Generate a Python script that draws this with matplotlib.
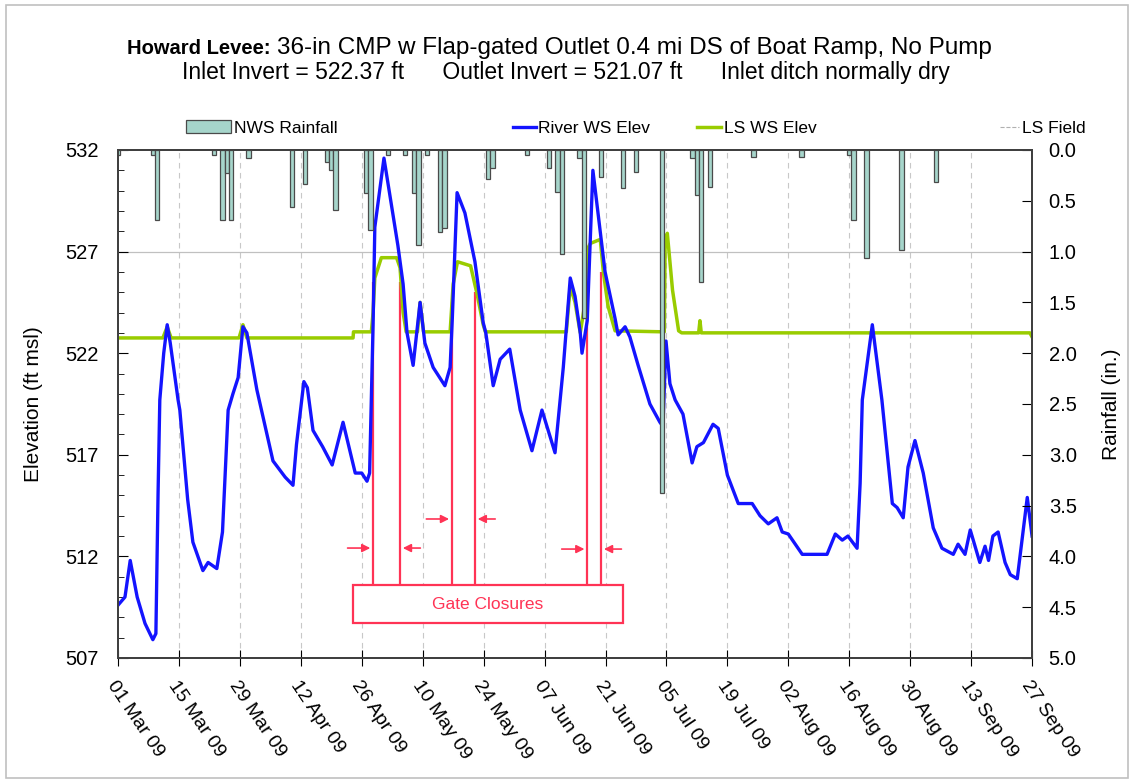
import matplotlib.pyplot as plt
from matplotlib.lines import Line2D
from matplotlib.patches import Rectangle
import numpy as np

# days counted from 01 Mar 09
river_day = [0, 1.6, 2.8, 4.4, 6.2, 8.0, 8.7, 9.2, 9.6, 10.5, 11.3, 12.0, 13.8, 14.2, 16.0, 17.2,
             19.5, 20.7, 22.7, 24.0, 25.3, 26.4, 27.6, 28.7, 29.6, 31.9, 35.6, 38.4, 40.2, 41.0,
             42.7, 43.5, 44.8, 47.0, 49.2, 51.7, 54.5, 56.0, 57.2, 57.8, 58.6, 59.0, 61.1, 64.3,
             65.5, 66.4, 67.8, 69.4, 70.5, 72.4, 75.1, 76.3, 76.8, 77.9, 79.7, 82.0, 83.9, 84.5,
             86.2, 87.8, 90.0, 92.4, 95.1, 97.4, 100.4, 102.3, 103.9, 105.0, 106.2, 106.6, 107.8,
             109.1, 111.9, 114.2, 114.9, 116.5, 117.6, 119.5, 122.2, 124.5, 125.2, 125.9, 126.8,
             128.0, 129.8, 131.9, 133.0, 134.5, 136.7, 137.9, 140.0, 142.5, 145.7, 147.5, 149.4,
             151.4, 152.6, 154.0, 157.2, 160.2, 162.9, 164.8, 166.4, 167.7, 169.8, 170.5, 171.0,
             173.3, 175.5, 177.9, 179.0, 180.4, 181.5, 183.1, 185.0, 187.3, 189.3, 191.9, 193.0,
             194.6, 195.8, 198.0, 199.2, 200.0, 201.0, 202.2, 203.8, 205.0, 206.6, 208.9, 210.0]
river_elev = [509.6, 510.0, 511.8, 510.0, 508.7, 507.9, 508.2, 515.1, 519.7, 522.0, 523.4, 522.5,
              519.7, 519.2, 514.8, 512.7, 511.3, 511.7, 511.4, 513.2, 519.2, 520.0, 520.8, 523.3,
              523.0, 520.2, 516.7, 515.9, 515.5, 517.5, 520.6, 520.3, 518.2, 517.4, 516.5, 518.6,
              516.1, 516.1, 515.7, 516.1, 523.4, 528.2, 531.6, 527.3, 525.4, 523.0, 521.4, 524.5,
              522.5, 521.3, 520.4, 521.3, 523.7, 529.9, 528.9, 526.5, 523.5, 523.0, 520.4, 521.7,
              522.2, 519.2, 517.2, 519.2, 517.1, 521.3, 525.7, 524.8, 523.0, 522.0, 523.6, 531.0,
              526.0, 523.7, 522.9, 523.3, 522.8, 521.4, 519.5, 518.6, 518.4, 522.6, 520.5, 519.7,
              519.0, 516.6, 517.4, 517.6, 518.5, 518.3, 516.0, 514.6, 514.6, 514.0, 513.6, 513.9,
              513.2, 513.1, 512.1, 512.1, 512.1, 513.1, 512.8, 513.0, 512.4, 515.6, 519.7, 523.4,
              519.7, 514.6, 514.4, 513.9, 516.4, 517.7, 516.1, 513.4, 512.4, 512.1, 512.6, 512.1,
              513.3, 511.7, 512.5, 511.8, 513.0, 513.2, 511.7, 511.1, 510.9, 514.9, 513.0]

ls_day = [0, 10.3, 11.3, 12.2, 27.8, 28.7, 29.6, 54.0, 54.1, 58.2, 58.6, 59.0, 60.5, 64.0, 64.8,
          65.5, 66.2, 68.8, 69.4, 70.2, 76.3, 77.0, 78.0, 81.0, 82.5, 83.9, 84.4, 103.0, 103.9,
          105.0, 106.2, 107.3, 107.8, 108.5, 110.8, 111.5, 112.6, 114.2, 125.5, 125.7, 126.2,
          127.4, 128.8, 129.5, 133.4, 133.7, 134.0, 209.5, 210.0]
ls_elev = [522.75, 522.75, 523.3, 522.75, 522.75, 523.4, 522.75, 522.75, 523.05, 523.05, 524.0,
           525.7, 526.7, 526.7, 526.2, 524.0, 523.05, 523.05, 524.5, 523.05, 523.05, 525.4, 526.5,
           526.3, 524.9, 523.4, 523.05, 523.05, 525.3, 524.5, 523.0, 524.5, 527.1, 527.4, 527.6,
           526.0, 524.3, 523.1, 523.05, 527.4, 527.9, 525.1, 523.1, 523.0, 523.0, 523.6, 523.0,
           523.0, 522.8]

rain_day = [0, 8, 9, 22, 24, 25, 26, 30, 40, 43, 48, 49, 50, 57, 58, 62, 66, 68, 69, 71, 74, 75,
            85, 86, 94, 99, 101, 102, 106, 107, 111, 116, 119, 125, 132, 133, 134, 136, 146, 157,
            168, 169, 172, 180, 188]
rain_in = [0.05, 0.05, 0.69, 0.05, 0.69, 0.23, 0.69, 0.08, 0.56, 0.33, 0.12, 0.2, 0.59, 0.42,
           0.79, 0.05, 0.05, 0.42, 0.94, 0.05, 0.81, 0.77, 0.29, 0.18, 0.05, 0.18, 0.41, 1.02,
           0.08, 1.65, 0.27, 0.37, 0.22, 3.38, 0.08, 0.44, 1.3, 0.36, 0.07, 0.07, 0.05, 0.69,
           1.06, 0.98, 0.32]

# gate closures (start, end) in days
closure_start = [58.6, 76.7, 107.8]
closure_end = [64.8, 82.0, 111.0]
closure_top_start = [525.5, 524.5, 525.2]
closure_top_end = [525.5, 525.0, 526.0]

tick_days = list(range(0, 211, 14))
tick_labels = ['01 Mar 09', '15 Mar 09', '29 Mar 09', '12 Apr 09', '26 Apr 09', '10 May 09',
               '24 May 09', '07 Jun 09', '21 Jun 09', '05 Jul 09', '19 Jul 09', '02 Aug 09',
               '16 Aug 09', '30 Aug 09', '13 Sep 09', '27 Sep 09']

plt.rcParams['font.family'] = ['Liberation Sans', 'DejaVu Sans']

fig = plt.figure(figsize=(11.37, 7.82), dpi=100)
ax = fig.add_axes([0.1038, 0.1586, 0.8039, 0.6496])

# grid
for d in tick_days[1:-1]:
    ax.axvline(d, color='#c8c8c8', lw=0.8, ls=(0, (5, 4)), zorder=0)
ax.axhline(527, color='#c0c0c0', lw=0.9, zorder=0)

ax.plot(ls_day, ls_elev, color='#99cc00', lw=2.5, zorder=3)
ax.plot(river_day, river_elev, color='#1414ff', lw=2.4, zorder=4)

# gate closures
red = '#ff3355'
ax.vlines(closure_start, 510.59, closure_top_start, color=red, lw=1.6, zorder=2)
ax.vlines(closure_end, 510.59, closure_top_end, color=red, lw=1.6, zorder=2)
arrow_y = [512.41, 513.84, 512.36]
for s, e, yy in zip(closure_start, closure_end, arrow_y):
    ax.annotate('', xy=(s, yy), xytext=(s - 6.5, yy),
                arrowprops=dict(arrowstyle='-|>', color=red, lw=1.2, mutation_scale=12))
    ax.annotate('', xy=(e, yy), xytext=(e + 5.3, yy),
                arrowprops=dict(arrowstyle='-|>', color=red, lw=1.2, mutation_scale=12))
ax.add_patch(Rectangle((54.0, 508.72), 62.0, 1.87, facecolor='white', edgecolor=red,
                       lw=1.6, zorder=5))
ax.text(85.0, 509.65, 'Gate Closures', color=red, fontsize=12.5, ha='center', va='center',
        zorder=6)

ax.set_xlim(0, 210)
ax.set_ylim(507, 532)
ax.set_yticks(np.arange(507, 533, 5))
ax.set_yticks(np.arange(507, 533, 1), minor=True)
ax.set_xticks(tick_days)
ax.set_xticklabels(tick_labels, rotation=-56, ha='left', va='top', rotation_mode='anchor',
                   fontsize=14)
ax.tick_params(axis='y', which='both', direction='in', labelsize=14.5, pad=14)
ax.tick_params(axis='y', which='major', length=7)
ax.tick_params(axis='y', which='minor', length=4)
ax.tick_params(axis='x', direction='inout', length=12, pad=8)
ax.set_ylabel('Elevation (ft msl)', fontsize=15, labelpad=16)

ax2 = ax.twinx()
ax2.bar(rain_day, rain_in, width=1.0, color='#a6d5cb', edgecolor='#4a4a4a', lw=0.9, zorder=2)
ax2.set_ylim(5, 0)
ax2.set_yticks(np.arange(0, 5.01, 0.5))
ax2.set_yticklabels(['%.1f' % v for v in np.arange(0, 5.01, 0.5)])
ax2.tick_params(axis='y', direction='in', length=7, labelsize=14.5, pad=12)
ax2.set_ylabel('Rainfall (in.)', fontsize=15, labelpad=18)

for a in (ax, ax2):
    for sp in a.spines.values():
        sp.set_color('#404040')
        sp.set_linewidth(1.4)

# legend entries placed one by one
leg_y = 1 - 128 / 782
entries = [(Rectangle((0, 0), 1, 1, facecolor='#a6d5cb', edgecolor='#4a4a4a', lw=0.9),
            'NWS Rainfall', 186, 2.6),
           (Line2D([], [], color='#1414ff', lw=2.4), 'River WS Elev', 513, 1.3),
           (Line2D([], [], color='#99cc00', lw=2.5), 'LS WS Elev', 697, 1.4),
           (Line2D([], [], color='#b0b0b0', lw=0.8, ls='--'), 'LS Field', 1000, 1.1)]
for h, lab, px, hl in entries:
    fig.legend([h], [lab], loc='center left', bbox_to_anchor=(px / 1137, leg_y),
               frameon=False, fontsize=12.5, handlelength=hl, handletextpad=0.15,
               borderaxespad=0, borderpad=0)

fig.text(127 / 1137, 1 - 48 / 782, 'Howard Levee:', fontsize=14.5, fontweight='bold',
         ha='left', va='center')
fig.text(277 / 1137, 1 - 48 / 782, '36-in CMP w Flap-gated Outlet 0.4 mi DS of Boat Ramp, No Pump',
         fontsize=17.5, ha='left', va='center')
fig.text(566 / 1137, 1 - 73 / 782,
         'Inlet Invert = 522.37 ft      Outlet Invert = 521.07 ft      Inlet ditch normally dry',
         fontsize=16.5, ha='center', va='center')

fig.patches.append(Rectangle((6 / 1137, 4 / 782), 1122 / 1137, 773 / 782, transform=fig.transFigure,
                             fill=False, edgecolor='#c0c0c0', lw=1.2))

plt.savefig('out.png', dpi=100)
